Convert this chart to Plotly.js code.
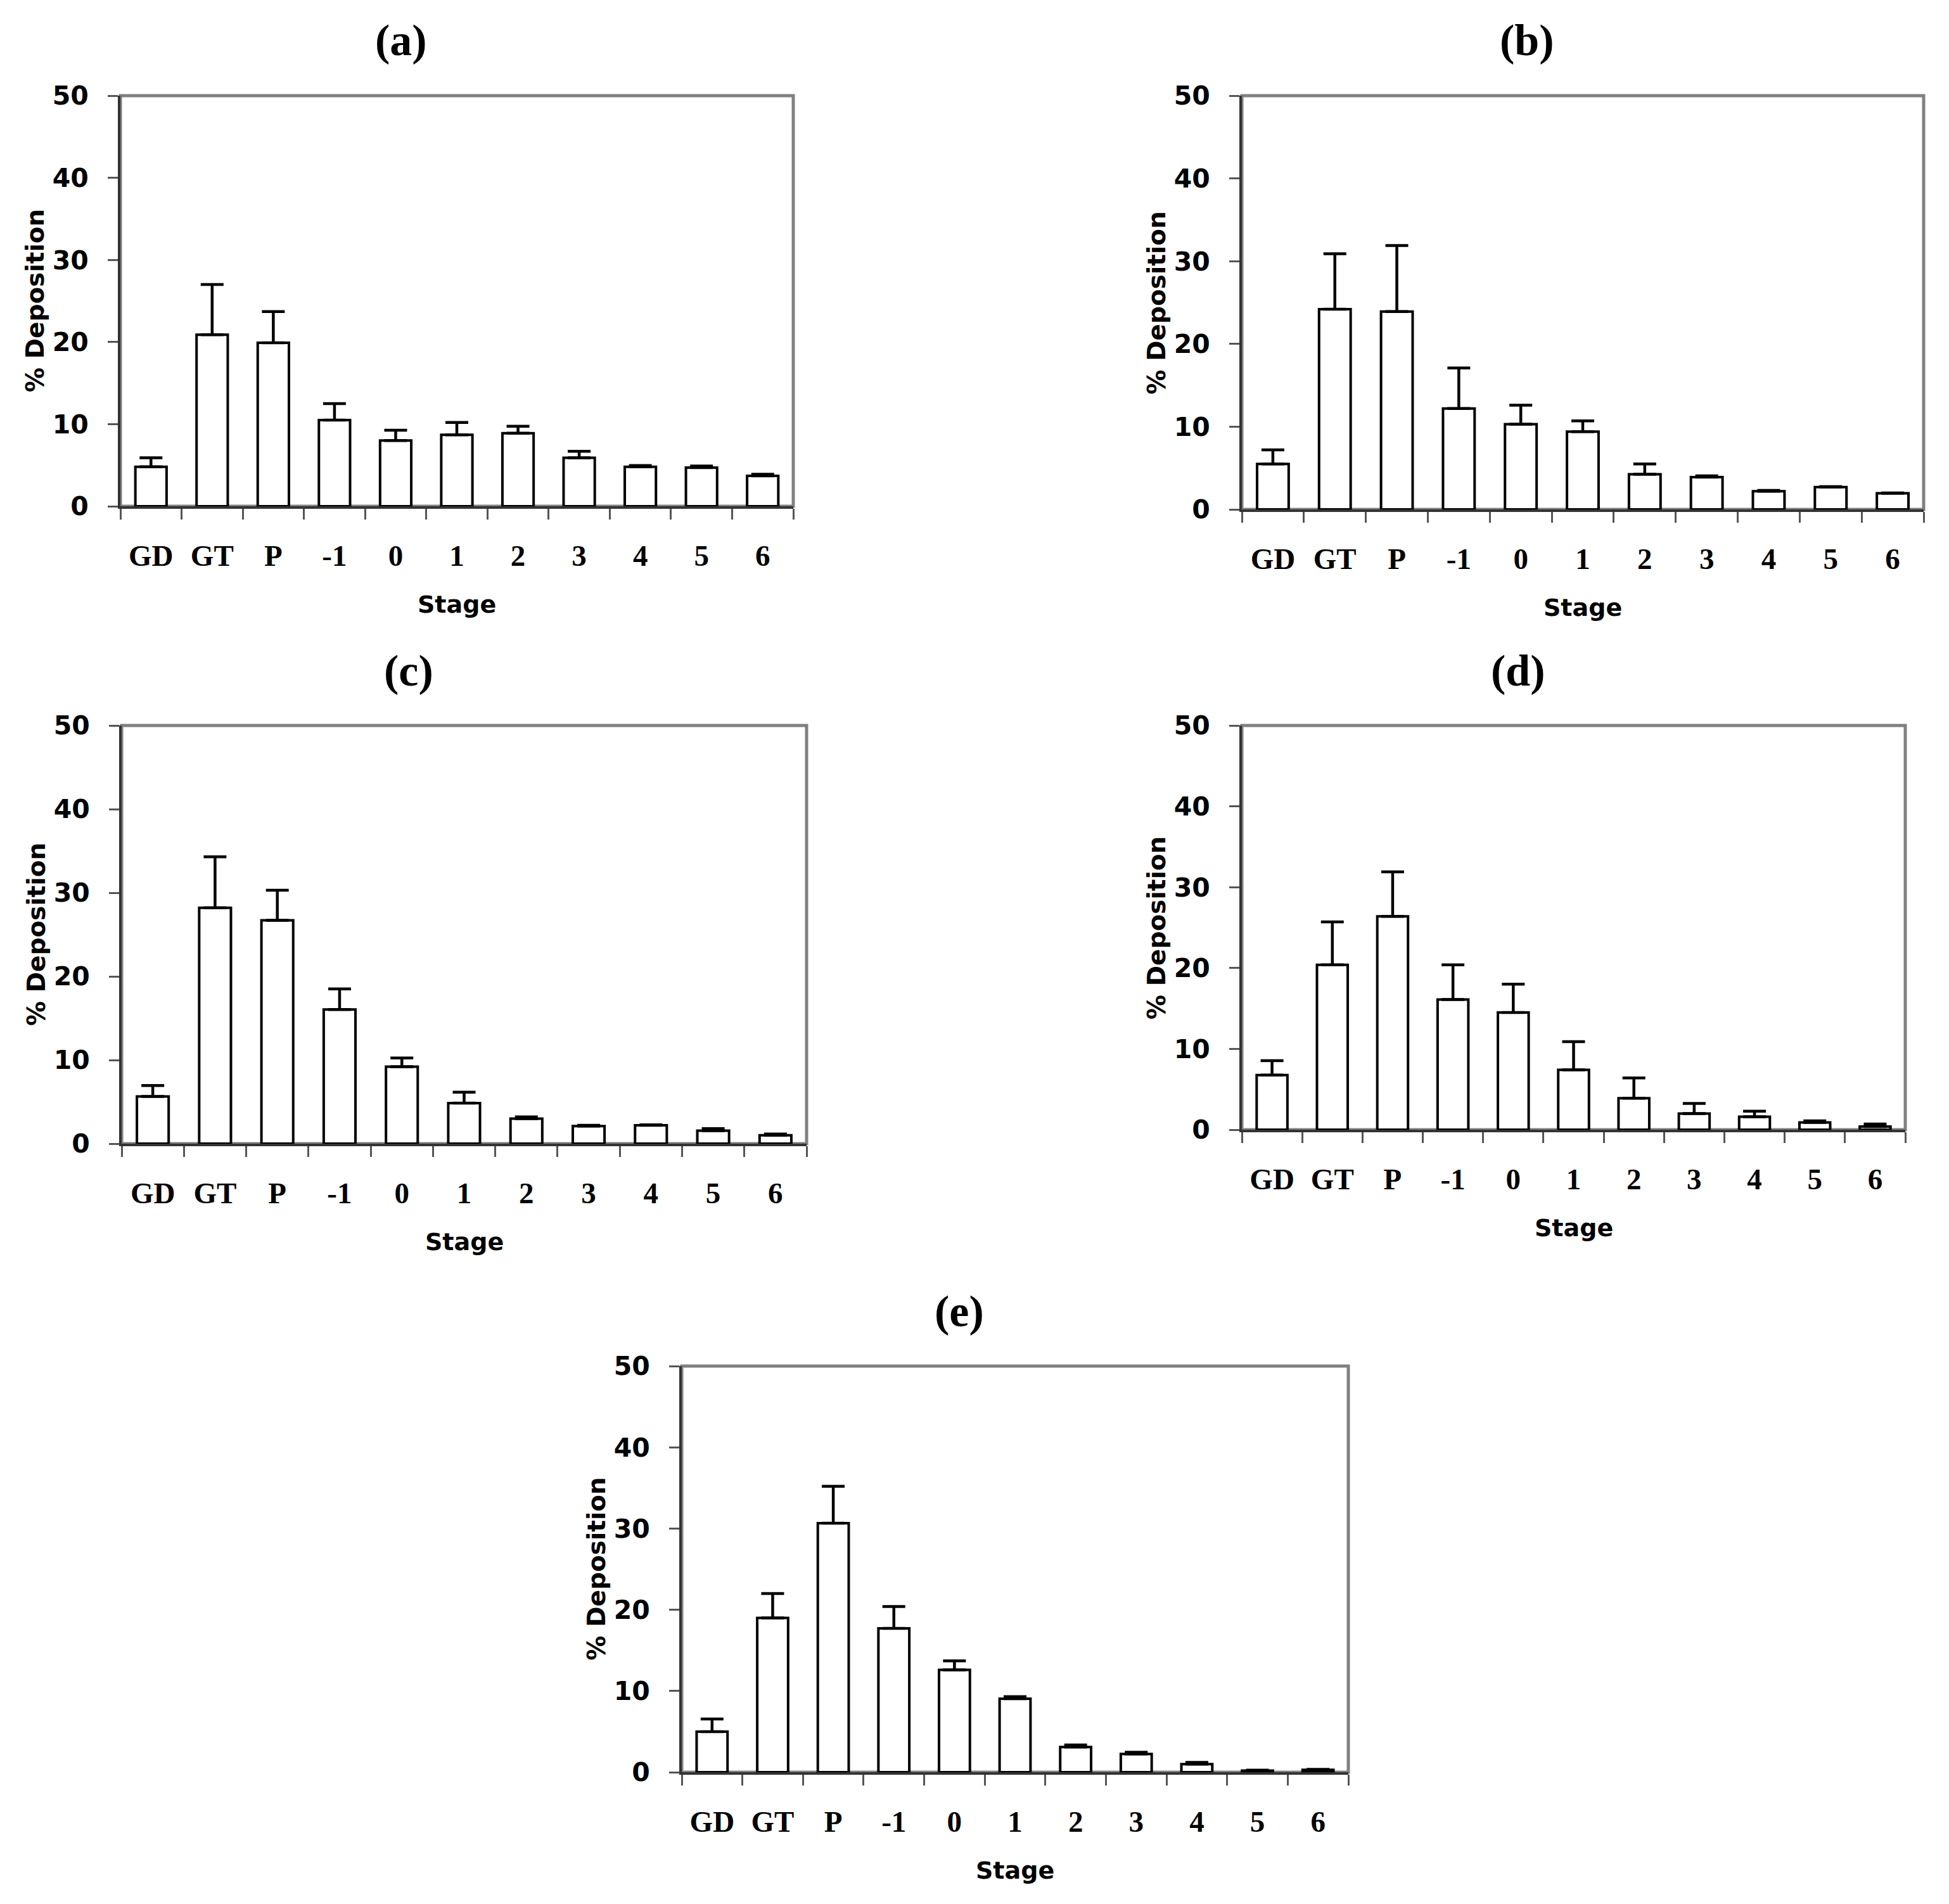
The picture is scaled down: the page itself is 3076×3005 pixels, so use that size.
<!DOCTYPE html>
<html>
<head>
<meta charset="utf-8">
<script src="https://cdn.plot.ly/plotly-3.0.1.min.js"></script>
<style>
  body { margin: 0; background: #fff; }
  #graph { width: 3076px; height: 3005px; }
</style>
</head>
<body>
<div id="graph"></div>
<script>
var stages = ['GD', 'GT', 'P', '-1', '0', '1', '2', '3', '4', '5', '6'];

// mean % deposition per stage, and the upper error (SD) for each panel
var depA = [4.8, 20.9, 19.9, 10.5, 8.0, 8.7, 8.9, 5.9, 4.8, 4.7, 3.7];
var sdA  = [1.1, 6.1, 3.8, 2.0, 1.25, 1.5, 0.85, 0.8, 0.15, 0.2, 0.2];

var depB = [5.5, 24.2, 23.9, 12.2, 10.3, 9.4, 4.25, 3.9, 2.2, 2.7, 1.95];
var sdB  = [1.7, 6.7, 8.0, 4.9, 2.3, 1.3, 1.25, 0.15, 0.1, 0.05, 0.05];

var depC = [5.65, 28.2, 26.7, 16.05, 9.2, 4.85, 3.0, 2.1, 2.2, 1.55, 1.0];
var sdC  = [1.3, 6.1, 3.6, 2.45, 1.05, 1.3, 0.2, 0.1, 0.05, 0.25, 0.15];

var depD = [6.75, 20.4, 26.4, 16.1, 14.5, 7.4, 3.9, 2.0, 1.6, 0.9, 0.4];
var sdD  = [1.8, 5.3, 5.5, 4.3, 3.5, 3.5, 2.5, 1.25, 0.7, 0.2, 0.3];

var depE = [5.0, 19.0, 30.65, 17.7, 12.6, 9.05, 3.1, 2.25, 1.0, 0.2, 0.3];
var sdE  = [1.55, 3.0, 4.55, 2.7, 1.1, 0.25, 0.25, 0.2, 0.2, 0.05, 0.05];

var panelNames = ['(a)', '(b)', '(c)', '(d)', '(e)'];
var panelDep = [depA, depB, depC, depD, depE];
var panelSd = [sdA, sdB, sdC, sdD, sdE];

// plot boxes in page pixels: [left, right, top, bottom]
var boxes = [
    [190, 1252, 151, 799],
    [1960, 3036, 151, 804],
    [192, 1273, 1145, 1805],
    [1960, 3007, 1145, 1783],
    [1076, 2128, 2156, 2797]
];

var W = 3076, H = 3005;

var layout = {
    width: W,
    height: H,
    margin: {l: 0, r: 0, t: 0, b: 0},
    paper_bgcolor: 'white',
    plot_bgcolor: 'white',
    showlegend: false,
    bargap: 0.49,
    shapes: [],
    annotations: []
};

var plot_data = [];

for (var i = 0; i < 5; i++) {
    var n = i + 1;
    var xa = n == 1 ? 'x' : 'x' + n;
    var ya = n == 1 ? 'y' : 'y' + n;
    var b = boxes[i];

    plot_data.push({
        type: 'bar',
        x: stages,
        y: panelDep[i],
        xaxis: xa,
        yaxis: ya,
        marker: {color: 'white', line: {color: 'black', width: 4}},
        error_y: {
            type: 'data',
            symmetric: false,
            array: panelSd[i],
            arrayminus: panelSd[i].map(function () { return 0; }),
            color: 'black',
            thickness: 4.5,
            width: 18
        },
        hoverinfo: 'x+y'
    });

    layout['xaxis' + (n == 1 ? '' : n)] = {
        domain: [b[0] / W, b[1] / W],
        anchor: ya,
        type: 'category',
        showline: true,
        linecolor: '#333',
        linewidth: 4,
        showgrid: false,
        ticks: 'outside',
        tickson: 'boundaries',
        ticklen: 17,
        tickwidth: 3,
        tickcolor: '#555',
        ticklabelstandoff: 34,
        tickfont: {family: 'Liberation Serif', size: 47, color: 'black', weight: 'bold'},
        fixedrange: true
    };
    layout['yaxis' + (n == 1 ? '' : n)] = {
        domain: [1 - b[3] / H, 1 - b[2] / H],
        anchor: xa,
        range: [0, 50],
        dtick: 10,
        showline: true,
        linecolor: '#333',
        linewidth: 4,
        showgrid: false,
        zeroline: false,
        ticks: 'outside',
        ticklen: 16,
        tickwidth: 3,
        tickcolor: '#555',
        ticklabelstandoff: 22,
        tickfont: {family: 'DejaVu Sans', size: 41, color: 'black', weight: 'bold'},
        fixedrange: true
    };

    // grey frame round the plot area
    layout.shapes.push({
        type: 'rect', layer: 'below',
        xref: xa + ' domain', yref: ya + ' domain',
        x0: 0, x1: 1, y0: 0, y1: 1,
        line: {color: '#808080', width: 5}
    });

    layout.annotations.push({
        text: panelNames[i],
        xref: xa + ' domain', yref: ya + ' domain',
        x: 0.5, y: 1, xshift: -88, yshift: 87,
        xanchor: 'center', yanchor: 'middle',
        showarrow: false,
        font: {family: 'Liberation Serif', size: 70, color: 'black', weight: 'bold'}
    });
    layout.annotations.push({
        text: 'Stage',
        xref: xa + ' domain', yref: ya + ' domain',
        x: 0.5, y: 0, yshift: -155,
        xanchor: 'center', yanchor: 'middle',
        showarrow: false,
        font: {family: 'DejaVu Sans', size: 38, color: 'black', weight: 'bold'}
    });
    layout.annotations.push({
        text: '% Deposition',
        xref: xa + ' domain', yref: ya + ' domain',
        x: 0, y: 0.5, xshift: -135,
        xanchor: 'center', yanchor: 'middle',
        textangle: -90,
        showarrow: false,
        font: {family: 'DejaVu Sans', size: 39, color: 'black', weight: 'bold'}
    });
}

Plotly.newPlot('graph', plot_data, layout, {displayModeBar: false, staticPlot: true});
</script>
</body>
</html>
